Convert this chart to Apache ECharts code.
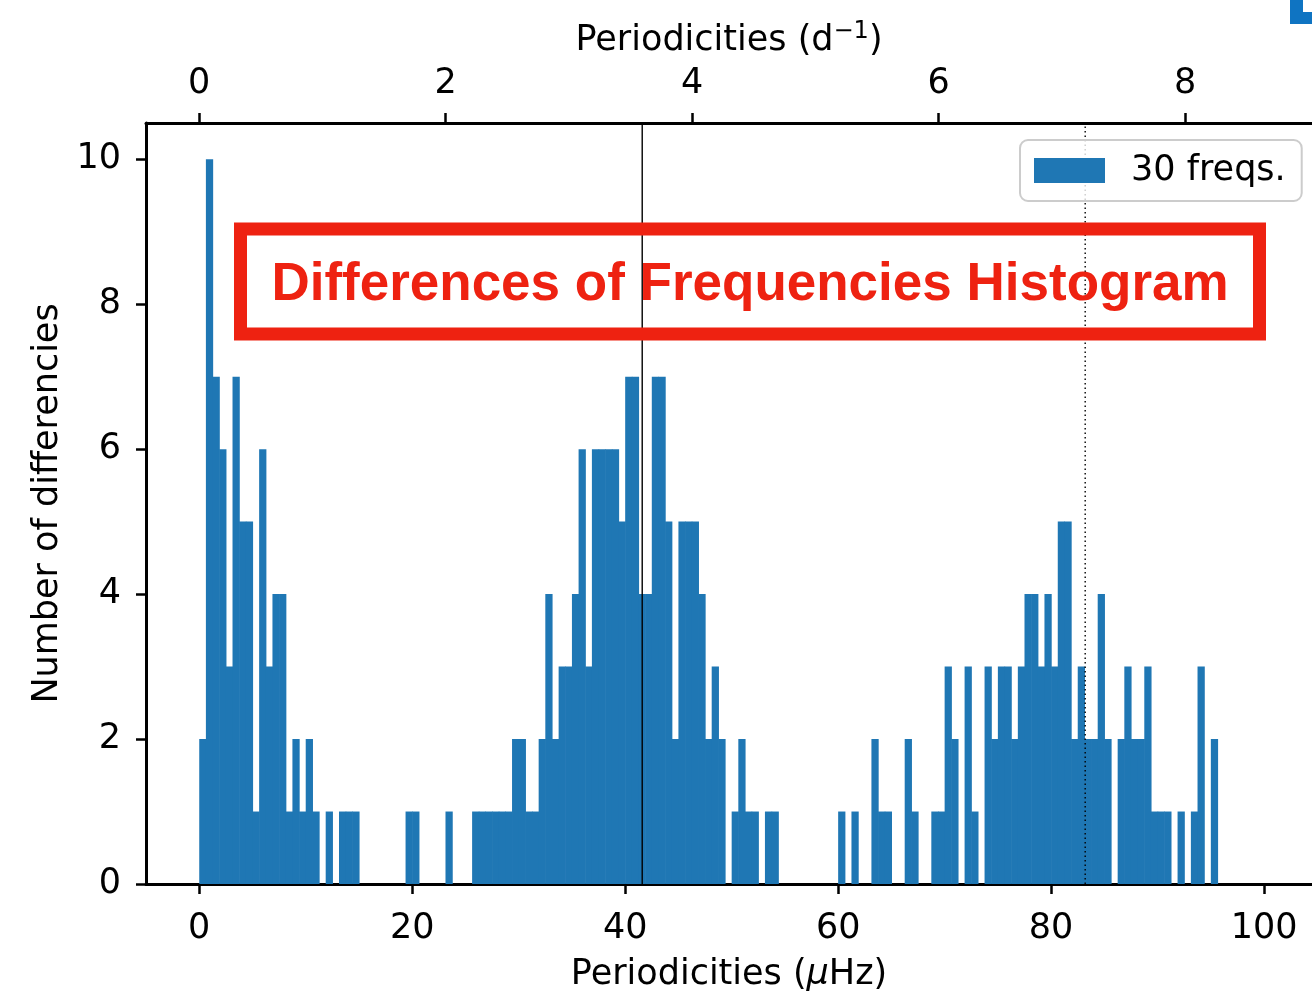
<!DOCTYPE html>
<html><head><meta charset="utf-8">
<script src="https://cdn.jsdelivr.net/npm/echarts@6/dist/echarts.min.js"></script>
<style>html,body{margin:0;padding:0;background:#fff}#c{width:1312px;height:991px}</style>
</head><body><div id="c"></div>
<script>
// ---- data ----
const binWidth = 0.625; // μHz
const counts = [
  2,10,7,6,3,7,5,5,1,6,3,4,4,1,2,1,2,1,0,1,0,1,1,1,
  0,0,0,0,0,0,0,
  1,1,
  0,0,0,0,
  1,
  0,0,0,
  1,1,1,1,1,1,
  2,2,1,1,2,4,2,3,3,4,6,3,6,6,6,6,5,7,7,4,4,7,7,5,2,5,5,5,4,2,3,2,0,1,2,1,1,0,1,1,
  0,0,0,0,0,0,0,0,0,
  1,0,1,0,0,2,1,1,0,0,2,1,0,0,1,1,3,2,0,3,1,0,3,2,3,3,2,3,4,4,3,4,3,5,5,2,3,2,2,4,2,0,2,3,2,2,3,1,1,1,0,1,0,1,3,0,2
];
const xTicks = [0, 20, 40, 60, 80, 100];
const topTicks = [0, 2, 4, 6, 8];
const yTicks = [0, 2, 4, 6, 8, 10];
const solidLineX = 41.6;
const dottedLineX = 83.2;
const muHzPerInvDay = 11.574;
const xRange = [-5, 104.5]; // visible part (right spine falls just outside the picture)
const yRange = [0, 10.5];
const legendName = '30 freqs.';
const titleText = 'Differences of Frequencies Histogram';

// ---- build ----
const binData = counts.map((c, i) => [i * binWidth, (i + 1) * binWidth, c]);
const FONT = "'DejaVu Sans', sans-serif";
const FS = 35;
const axisLineStyle = { color: '#000', width: 3 };
const tickStyle = { color: '#000', width: 2.5 };
const labelStyle = { fontSize: FS, fontFamily: FONT, color: '#000' };

const chart = echarts.init(document.getElementById('c'), null, { renderer: 'canvas' });
chart.setOption({
  animation: false,
  backgroundColor: '#fff',
  grid: { left: 146, top: 123, right: 0, height: 761, containLabel: false, outerBoundsMode: 'none' },
  legend: {
    data: [legendName],
    left: 1020, top: 140,
    padding: [13, 16, 13, 14],
    itemWidth: 71, itemHeight: 25,
    icon: 'rect',
    backgroundColor: 'rgba(255,255,255,0.8)',
    borderColor: '#cccccc', borderWidth: 2, borderRadius: 8,
    textStyle: { fontSize: FS, fontFamily: FONT, color: '#000', padding: [0, 0, 0, 21], lineHeight: 35 }
  },
  xAxis: [
    {
      type: 'value', position: 'bottom', min: xRange[0], max: xRange[1],
      axisLine: { show: true, onZero: false, lineStyle: axisLineStyle },
      axisTick: { show: true, length: 10, lineStyle: tickStyle, customValues: xTicks },
      axisLabel: Object.assign({ customValues: xTicks, margin: 27 }, labelStyle),
      splitLine: { show: false },
      name: '{a|Periodicities (}{i|μ}{a|Hz)}',
      nameLocation: 'middle', nameGap: 73, nameMoveOverlap: false,
      nameTextStyle: { rich: {
        a: { fontSize: FS, fontFamily: FONT, color: '#000' },
        i: { fontSize: FS, fontFamily: FONT, fontStyle: 'italic', color: '#000' }
      } }
    },
    {
      type: 'value', position: 'top', min: xRange[0] / muHzPerInvDay, max: xRange[1] / muHzPerInvDay,
      axisLine: { show: true, onZero: false, lineStyle: axisLineStyle },
      axisTick: { show: true, length: 10, lineStyle: tickStyle, customValues: topTicks },
      axisLabel: Object.assign({ customValues: topTicks, margin: 22 }, labelStyle),
      splitLine: { show: false },
      name: '{a|Periodicities (d}{s|−1}{a|)}',
      nameLocation: 'middle', nameGap: 61,
      nameTextStyle: { rich: {
        a: { fontSize: FS, fontFamily: FONT, color: '#000', lineHeight: 42 },
        s: { fontSize: 24, fontFamily: FONT, color: '#000', verticalAlign: 'top', lineHeight: 42, padding: [0, 0, 12, 0] }
      } }
    }
  ],
  yAxis: {
    type: 'value', min: yRange[0], max: yRange[1],
    axisLine: { show: true, onZero: false, lineStyle: axisLineStyle },
    axisTick: { show: true, length: 10, lineStyle: tickStyle, customValues: yTicks },
    axisLabel: Object.assign({ customValues: yTicks, margin: 25 }, labelStyle),
    splitLine: { show: false },
    name: 'Number of differencies',
    nameLocation: 'middle', nameGap: 57,
    nameTextStyle: { fontSize: FS, fontFamily: FONT, color: '#000' }
  },
  series: [
    {
      name: legendName, type: 'custom', xAxisIndex: 0, yAxisIndex: 0,
      itemStyle: { color: '#1f77b4' },
      encode: { x: [0, 1], y: 2 },
      data: binData,
      clip: true,
      renderItem: function (params, api) {
        const x0 = api.value(0), x1 = api.value(1), c = api.value(2);
        if (!c) return null;
        const p0 = api.coord([x0, c]);
        const p1 = api.coord([x1, 0]);
        return {
          type: 'rect',
          shape: { x: p0[0], y: p0[1], width: p1[0] - p0[0] + 0.6, height: p1[1] - p0[1] },
          style: { fill: '#1f77b4' }
        };
      },
      z: 2
    },
    {
      name: 'solid', type: 'line', xAxisIndex: 0, yAxisIndex: 0, symbol: 'none',
      data: [[solidLineX, yRange[0]], [solidLineX, yRange[1]]],
      lineStyle: { color: '#000', width: 1.4, type: 'solid' }, z: 3, silent: true
    },
    {
      name: 'dotted', type: 'line', xAxisIndex: 0, yAxisIndex: 0, symbol: 'none',
      data: [[dottedLineX, yRange[0]], [dottedLineX, yRange[1]]],
      lineStyle: { color: '#000', width: 1.4, type: [1.5, 3] }, z: 3, silent: true
    }
  ],
  graphic: [
    {
      type: 'rect', z: 100,
      shape: { x: 240.5, y: 229, width: 1019, height: 105 },
      style: { fill: 'rgba(255,255,255,0)', stroke: '#ee2211', lineWidth: 13 }
    },
    {
      type: 'text', z: 101, x: 750, y: 285,
      style: {
        text: titleText, fill: '#ee2211',
        font: "bold 53px 'Liberation Sans', Arial, sans-serif",
        align: 'center', verticalAlign: 'middle'
      }
    },
    {
      type: 'polygon', z: 101,
      shape: { points: [[1290, 0], [1303, 0], [1303, 12], [1312, 12], [1312, 24], [1290, 24]] },
      style: { fill: '#0f74c2' }
    }
  ]
});
</script>
</body></html>
